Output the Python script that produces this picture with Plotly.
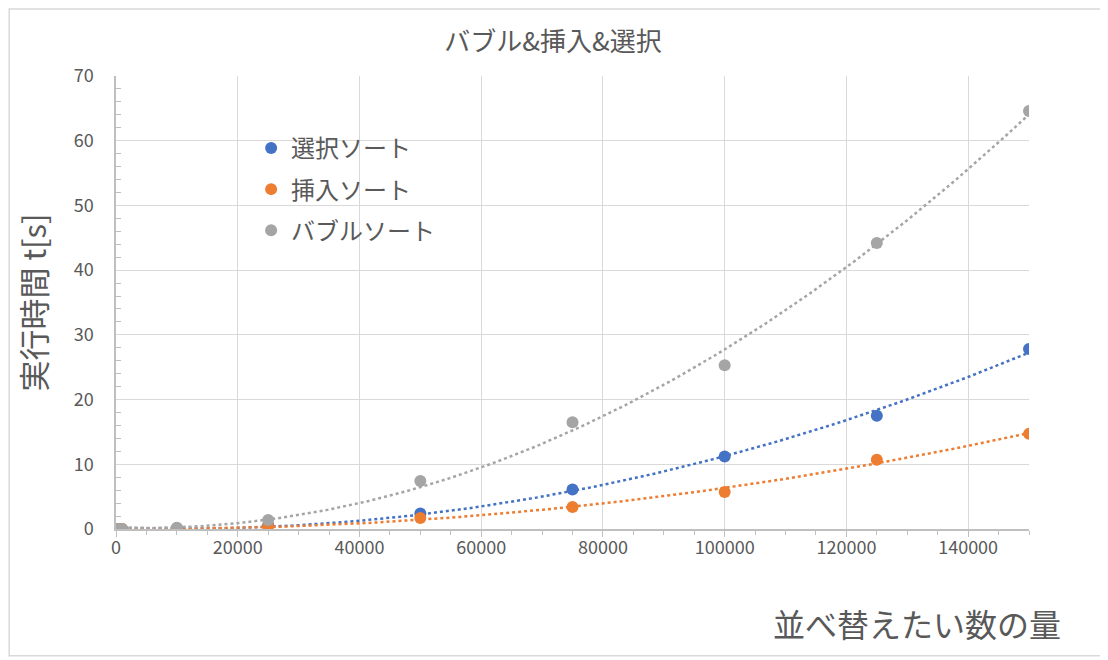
import numpy as np
import plotly.graph_objects as go

# number of items sorted
n_items = [100, 1000, 10000, 25000, 50000, 75000, 100000, 125000, 150000]

# execution time [s]
t_selection = [0.0, 0.0, 0.1, 0.6, 2.4, 6.1, 11.2, 17.5, 27.8]
t_insertion = [0.0, 0.0, 0.05, 0.4, 1.7, 3.4, 5.7, 10.7, 14.7]
t_bubble = [0.0, 0.0, 0.2, 1.4, 7.4, 16.5, 25.3, 44.2, 64.6]

series_names = ["選択ソート", "挿入ソート", "バブルソート"]
series_colors = ["#4472C4", "#ED7D31", "#A5A5A5"]

FONT = "Noto Sans CJK JP"
GREY_TEXT = "#595959"

fig = go.Figure()

x_fit = np.linspace(min(n_items), max(n_items), 200)
for name, color, ys in zip(series_names, series_colors, [t_selection, t_insertion, t_bubble]):
    # order-2 polynomial trendline, like the Excel one
    coef = np.polyfit(n_items, ys, 2)
    fig.add_trace(go.Scatter(x=x_fit, y=np.polyval(coef, x_fit), mode="lines",
                             line=dict(color=color, width=2.5, dash="dot"),
                             showlegend=False, hoverinfo="skip"))

for i, (name, color, ys) in enumerate(zip(series_names, series_colors,
                                           [t_selection, t_insertion, t_bubble])):
    fig.add_trace(go.Scatter(x=n_items, y=ys, mode="markers", name=name,
                             legendgroup=f"g{i}",
                             marker=dict(color=color, size=12)))

# the page body has an 8px margin, so the figure is a bit smaller than the window
fig.update_layout(
    width=1100, height=652,
    margin=dict(l=108, r=79, t=68, b=131, autoexpand=False),
    paper_bgcolor="white", plot_bgcolor="white",
    font=dict(family=FONT, color=GREY_TEXT, size=18),
    title=dict(text="バブル&挿入&選択", x=0.4955, xref="container", xanchor="center",
               y=0.948, yref="container", yanchor="middle",
               font=dict(size=26, color=GREY_TEXT)),
    legend=dict(x=0.148, y=0.89, xanchor="left", yanchor="top",
                bgcolor="rgba(0,0,0,0)", font=dict(size=24, color=GREY_TEXT),
                traceorder="grouped", tracegroupgap=7),
    showlegend=True,
)

fig.update_xaxes(range=[0, 150000], dtick=20000, tick0=0, tickformat="d",
                 showgrid=True, gridcolor="#D9D9D9", gridwidth=1,
                 showline=True, linecolor="#BFBFBF", linewidth=1.5,
                 ticks="outside", ticklen=6, tickcolor="#BFBFBF", ticklabelstandoff=-4,
                 minor=dict(dtick=5000, ticks="outside", ticklen=4, tickcolor="#BFBFBF", showgrid=False),
                 zeroline=False, automargin=False, tickfont=dict(size=18, color=GREY_TEXT))
fig.update_yaxes(range=[0, 70], dtick=10, tick0=0,
                 showgrid=True, gridcolor="#D9D9D9", gridwidth=1,
                 showline=True, linecolor="#BFBFBF", linewidth=1.5,
                 ticks="", ticklabelstandoff=17,
                 minor=dict(dtick=2, ticks="inside", ticklen=5, tickcolor="#BFBFBF", showgrid=False),
                 zeroline=False, automargin=False, tickfont=dict(size=18, color=GREY_TEXT),
                 title=dict(text="実行時間 t[s]", font=dict(size=31, color=GREY_TEXT), standoff=18))

# x axis title sits at the lower right, so it's an annotation
fig.add_annotation(text="並べ替えたい数の量", xref="paper", yref="paper",
                   x=0.877, y=-0.207, xanchor="center", yanchor="middle", showarrow=False,
                   font=dict(size=32, color=GREY_TEXT))

# outer chart border
fig.add_shape(type="rect", xref="paper", yref="paper",
              x0=-0.117, x1=1.083, y0=-0.28, y1=1.148,
              line=dict(color="#D9D9D9", width=1.5), layer="below")

fig.write_html("out.html")
